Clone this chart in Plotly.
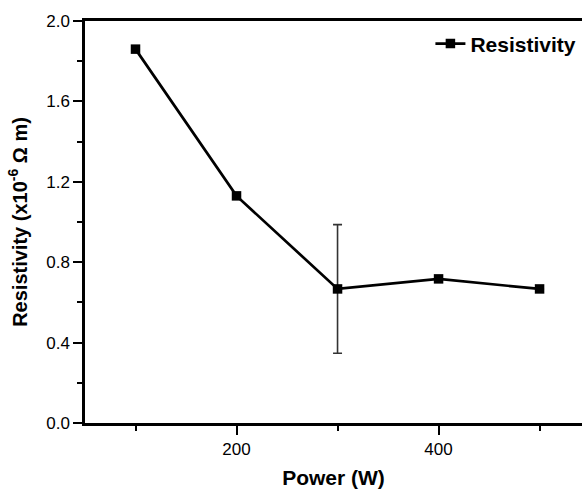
import plotly.graph_objects as go

power = [100, 200, 300, 400, 500]
resistivity = [1.86, 1.13, 0.667, 0.717, 0.667]
error = [None, None, 0.32, None, None]

FONT = "Liberation Sans, Arial, sans-serif"

fig = go.Figure()
fig.add_trace(go.Scatter(
    x=power, y=resistivity, mode="lines+markers", name="Resistivity",
    line=dict(color="black", width=2.7),
    marker=dict(symbol="square", size=9.5, color="black"),
    error_y=dict(type="data", array=error, visible=True, color="#333333", thickness=1.6, width=4.5),
))

fig.update_layout(
    width=582, height=489,
    margin=dict(l=85, r=0, t=21, b=66),
    plot_bgcolor="white", paper_bgcolor="white",
    font=dict(family=FONT, size=17, color="black"),
    showlegend=True,
    legend=dict(x=0.695, y=0.943, xanchor="left", yanchor="middle",
                font=dict(family=FONT, size=21, color="black", weight="bold"),
                bgcolor="rgba(0,0,0,0)"),
    xaxis=dict(
        range=[50, 542], tick0=0, dtick=200, showgrid=False, zeroline=False,
        showline=True, linecolor="black", linewidth=2.5, mirror=True,
        ticks="outside", ticklen=9, tickwidth=2, tickcolor="black",
        minor=dict(ticks="outside", ticklen=5, tickwidth=2, tickcolor="black", dtick=100, tick0=0, showgrid=False),
        tickfont=dict(size=17),
        title=dict(text="Power (W)", font=dict(size=21, weight="bold"), standoff=14),
    ),
    yaxis=dict(
        range=[0, 2.0], tick0=0, dtick=0.4, tickformat=".1f", showgrid=False, zeroline=False,
        showline=True, linecolor="black", linewidth=2.5,
        ticks="outside", ticklen=9, tickwidth=2, tickcolor="black",
        minor=dict(ticks="outside", ticklen=5, tickwidth=2, tickcolor="black", dtick=0.2, tick0=0, showgrid=False),
        tickfont=dict(size=17),
        title=dict(text="Resistivity (x10<sup>-6</sup> Ω m)", font=dict(size=20, weight="bold"), standoff=14),
    ),
)

fig.write_html("out.html")
